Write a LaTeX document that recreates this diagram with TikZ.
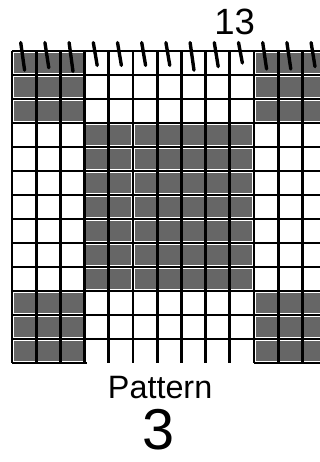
\documentclass[tikz,border=0pt]{standalone}
\usepackage{fontspec}
\setmainfont{Liberation Sans}
\usepackage{tikz}

\begin{document}
\begin{tikzpicture}[
    x=0.605cm, y=0.6cm,
    cellA/.style={fill=black!60},
    gridline/.style={line width=2.1pt},
    tick/.style={line width=2.4pt, line cap=round},
    font=\sffamily
  ]

  % frame of the page, grid runs off the right edge
  \useasboundingbox (-0.496,-4.125) rectangle (12.727,15.125);
  \clip (-0.496,-4.125) rectangle (12.727,15.125);

  %% ---- Shaded cells ----
  % top corners: rows 0-2
  \foreach \c in {0,1,2,10,11,12}
    \foreach \r in {10,11,12}
      \fill[cellA] (\c+0.07,\r+0.07) rectangle (\c+0.93,\r+0.93);
  % middle block: cols 3-9, rows 3-9
  \foreach \c in {3,...,9}
    \foreach \r in {3,...,9}
      \fill[cellA] (\c+0.07,\r+0.07) rectangle (\c+0.93,\r+0.93);
  % bottom corners: rows 10-12
  \foreach \c in {0,1,2,10,11,12}
    \foreach \r in {0,1,2}
      \fill[cellA] (\c+0.07,\r+0.07) rectangle (\c+0.93,\r+0.93);

  %% ---- Grid ----
  \foreach \y in {1,...,13} \draw[gridline] (0,\y) -- (13,\y);
  \foreach \x in {0,...,12} \draw[gridline] (\x,0) -- (\x,13);
  % bottom edge only under the corner blocks
  \draw[gridline] (0,0) -- (3.1,0);
  \draw[gridline] (10,0) -- (13,0);

  %% ---- Count marks on the top row ----
  \foreach \c/\l in {0/1.15,1/1.05,2/1.2,3/0.95,4/0.95,5/0.95,6/0.95,7/1.15,8/1.0,9/0.85,10/1.1,11/1.1,12/1.0}
    \draw[tick] (\c+0.36,13.35) -- (\c+0.52,13.35-\l);

  %% ---- Labels ----
  \node[anchor=base, font=\fontsize{26}{26}\selectfont] (count) at (9.2,13.7) {13};
  \node[anchor=base, font=\fontsize{23}{23}\selectfont] (title) at (6.12,-1.46) {Pattern};
  \node[anchor=base, inner sep=0pt, font=\fontsize{41}{41}\selectfont] (number) at (6.07,-3.62) {3};

\end{tikzpicture}
\end{document}
